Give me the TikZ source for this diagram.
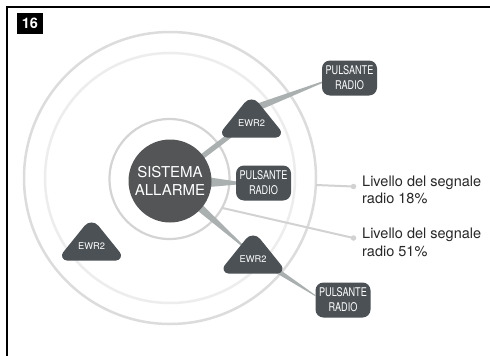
\documentclass[tikz,border=0pt]{standalone}
\usepackage{fontspec}
\setmainfont{TeX Gyre Heros}
\newfontfamily\condfont[FakeStretch=0.76]{TeX Gyre Heros}
\usetikzlibrary{calc,backgrounds}

\definecolor{darkbox}{RGB}{76,81,85}
\definecolor{coreC}{RGB}{84,85,87}
\definecolor{wedgeC}{RGB}{170,175,175}
\definecolor{ringA}{RGB}{220,220,220}
\definecolor{ringB}{RGB}{237,237,237}
\definecolor{ringC}{RGB}{212,212,212}
\definecolor{leadC}{RGB}{210,210,210}
\definecolor{labelC}{RGB}{40,40,40}

% tapered connector: from, to, half width at from, half width at to
\newcommand\wedgeto[4]{%
  \fill[wedgeC] ($(#1)!#3!90:(#2)$) -- ($(#2)!#4!-90:(#1)$)
    -- ($(#2)!#4!90:(#1)$) -- ($(#1)!#3!-90:(#2)$) -- cycle;}

\tikzset{
  core/.style={circle, fill=coreC, minimum size=83pt, inner sep=0pt,
    text=white, align=center, font=\fontsize{15}{18}\selectfont},
  pbox/.style={rectangle, rounded corners=8pt, fill=darkbox, text=white,
    minimum width=55pt, minimum height=35pt, inner sep=0pt, align=center,
    font=\condfont\fontsize{12}{15}\selectfont},
  ewr/.style={rectangle, minimum width=74pt, minimum height=66pt, inner sep=0pt,
    text=white, font=\fontsize{9.3}{10}\selectfont,
    text height=15.7pt, text depth=0pt,
    path picture={\fill[darkbox]
      ([shift={(-24.5pt,-18.5pt)}]path picture bounding box.center) --
      ([shift={(24.5pt,-18.5pt)}]path picture bounding box.center)
      .. controls ([shift={(28.7pt,-18.5pt)}]path picture bounding box.center)
      and ([shift={(31.03pt,-13.63pt)}]path picture bounding box.center) ..
      ([shift={(28.391pt,-10.36pt)}]path picture bounding box.center) --
      ([shift={(7.004pt,16.152pt)}]path picture bounding box.center)
      .. controls ([shift={(3.4pt,20.62pt)}]path picture bounding box.center)
      and ([shift={(-3.4pt,20.62pt)}]path picture bounding box.center) ..
      ([shift={(-7.004pt,16.152pt)}]path picture bounding box.center) --
      ([shift={(-28.391pt,-10.36pt)}]path picture bounding box.center)
      .. controls ([shift={(-31.03pt,-13.63pt)}]path picture bounding box.center)
      and ([shift={(-28.7pt,-18.5pt)}]path picture bounding box.center) ..
      ([shift={(-24.5pt,-18.5pt)}]path picture bounding box.center) -- cycle;}},
  dotn/.style={circle, fill=leadC, minimum size=5.5pt, inner sep=0pt},
  lab/.style={anchor=west, inner sep=0pt, align=left, text=labelC,
    font=\fontsize{14.5}{17.5}\selectfont},
  lead/.style={draw=leadC, line width=2pt},
  numbox/.style={fill=black, text=white, minimum width=26pt, minimum height=21pt,
    inner sep=0pt, font=\bfseries\fontsize{14.5}{14.5}\selectfont}
}

\begin{document}
\begin{tikzpicture}[x=1pt,y=-1pt]
\useasboundingbox (0,0) rectangle (490,356);

\node[numbox] (num) at (30,23.5) {16};

\node[core] (core) at (170,181) {SISTEMA\\ALLARME};

\node[pbox] (p1) at (349.5,78) {PULSANTE\\RADIO};
\node[pbox] (p2) at (263.5,183) {PULSANTE\\RADIO};
\node[pbox] (p3) at (343,300) {PULSANTE\\RADIO};

\node[ewr] (e1) at (251.5,119) {EWR2};
\node[ewr] (e2) at (91.5,242) {EWR2};
\node[ewr] (e3) at (253,255) {EWR2};

\coordinate (e1top) at ($(e1.center)+(0,-9.5)$);
\coordinate (r1) at (316,185);
\coordinate (r2) at (222.5,208);
\node[dotn] (d1) at (353.5,186.5) {};
\node[dotn] (d2) at (353.5,238) {};

\node[lab] (l1) at (362,190) {Livello del segnale\\radio 18\%};
\node[lab] (l2) at (362,242.5) {Livello del segnale\\radio 51\%};

\begin{pgfonlayer}{background}
  \fill[white] (0,0) rectangle (490,356);
  \draw[line width=1.5pt] (7,356) -- (7,7) -- (490,7);
  \draw[ringA, line width=2.5pt] (170,178) circle[radius=146];
  \draw[ringB, line width=2.5pt] (170,178) circle[radius=125];
  \draw[ringC, line width=2.2pt] (169.5,179) circle[radius=60];
  \draw[lead] (r1) -- (d1.center);
  \draw[lead] (r2) -- (d2.center);
  \wedgeto{core.center}{e1.center}{2.6pt}{2.6pt}
  \wedgeto{e1top}{p1.189}{3.8pt}{0.8pt}
  \wedgeto{core.center}{p2.west}{9.4pt}{1.65pt}
  \wedgeto{core.center}{e3.center}{5.8pt}{0.2pt}
  \wedgeto{e3.center}{p3.171}{3.7pt}{0.5pt}
\end{pgfonlayer}
\end{tikzpicture}
\end{document}
